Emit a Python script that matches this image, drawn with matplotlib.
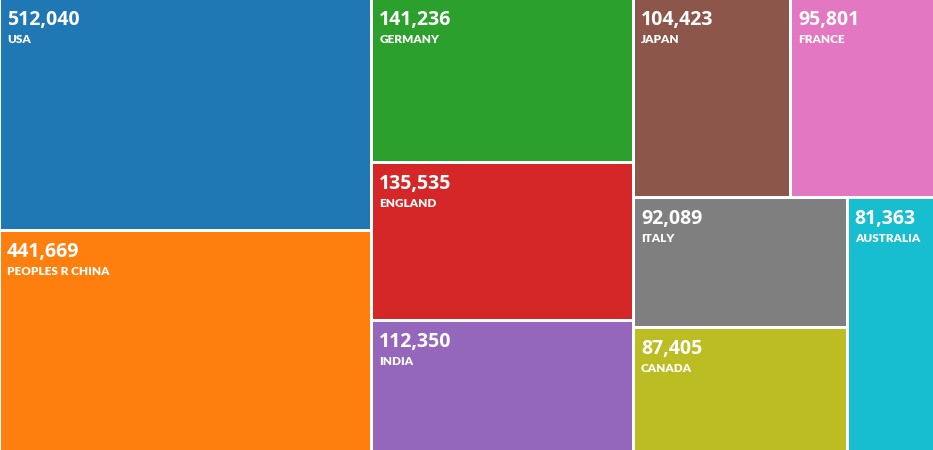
import matplotlib
matplotlib.use("Agg")
import matplotlib.pyplot as plt
from matplotlib.patches import Rectangle

# data
countries = ["USA", "PEOPLES R CHINA", "GERMANY", "ENGLAND", "INDIA",
             "JAPAN", "FRANCE", "ITALY", "CANADA", "AUSTRALIA"]
records = [512040, 441669, 141236, 135535, 112350,
           104423, 95801, 92089, 87405, 81363]
colors = plt.get_cmap("tab10").colors

W, H = 933, 450
gap = 3

# nested slice layout: ('h'|'v', children, optional fixed fractions)
layout = ("h", [
    ("v", [0, 1], [0.513, 0.487]),
    ("v", [2, 3, 4], None),
    ("v", [
        ("h", [5, 6], None),
        ("h", [("v", [7, 8], None), 9], [0.71, 0.29]),
    ], [0.439, 0.561]),
], [0.398, 0.280, 0.322])


def weight(node):
    if isinstance(node, int):
        return records[node]
    return sum(weight(c) for c in node[1])


def place(node, x, y, w, h, out):
    if isinstance(node, int):
        out[node] = (x, y, w, h)
        return
    orient, children, fracs = node
    if fracs is None:
        tot = sum(weight(c) for c in children)
        fracs = [weight(c) / tot for c in children]
    pos = 0.0
    for c, f in zip(children, fracs):
        if orient == "h":
            place(c, x + pos * w, y, f * w, h, out)
        else:
            place(c, x, y + pos * h, w, f * h, out)
        pos += f


rects = {}
place(layout, 0, 0, W, H, rects)

fig = plt.figure(figsize=(9.33, 4.5), dpi=100)
ax = fig.add_axes([0, 0, 1, 1])
ax.set_xlim(0.5, W - 1.5)
ax.set_ylim(H - 1.5, 1.5)
ax.axis("off")

num_font = ["Open Sans", "DejaVu Sans"]
lab_font = ["Lato", "DejaVu Sans"]

for i, (x, y, w, h) in rects.items():
    ax.add_patch(Rectangle((x + gap / 2, y + gap / 2), w - gap, h - gap,
                           facecolor=colors[i], edgecolor="none"))
    ax.text(x + 7.5, y + 26, f"{records[i]:,}", color="white",
            fontsize=14, fontweight="bold", family=num_font,
            va="baseline", ha="left")
    ax.text(x + 7.5, y + 44, countries[i], color="white",
            fontsize=8.5, fontweight="heavy", family=lab_font,
            va="baseline", ha="left")

fig.savefig("out.png", dpi=100, facecolor="white")
